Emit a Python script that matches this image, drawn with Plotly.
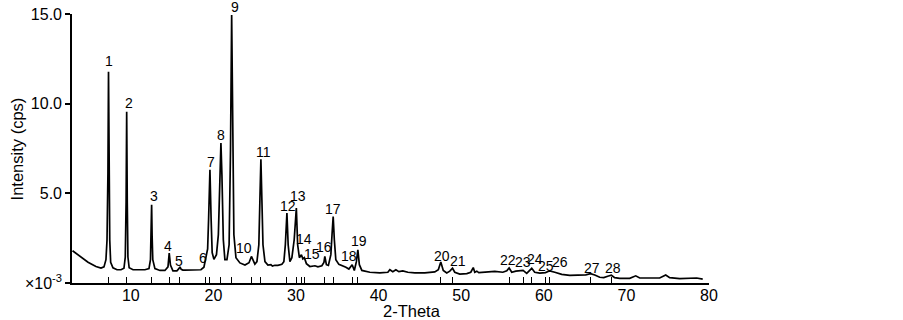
import plotly.graph_objects as go

# ---------------- data ----------------
two_theta = [
    2.94, 3.85, 4.82, 5.78, 6.39, 6.75, 6.99, 7.12, 7.23, 7.30, 7.38, 7.45, 7.56, 7.84,
    8.33, 8.81, 9.17, 9.33, 9.43, 9.50, 9.57, 9.65, 9.80, 10.27, 11.71, 12.20, 12.38,
    12.46, 12.52, 12.58, 12.66, 12.92, 13.53, 14.13, 14.50, 14.65, 14.80, 15.10, 15.58,
    15.82, 15.95, 16.10, 16.30, 16.55, 17.76, 18.49, 18.85, 19.00, 19.06, 19.18, 19.30,
    19.42, 19.58, 19.72, 19.85, 20.06, 20.37, 20.60, 20.78, 20.91, 21.03, 21.20, 21.39,
    21.64, 21.90, 22.07, 22.21, 22.34, 22.48, 22.73, 23.21, 23.82, 24.31, 24.60, 24.84,
    25.02, 25.27, 25.50, 25.63, 25.75, 25.87, 26.00, 26.24, 26.60, 26.96, 27.14, 27.44,
    27.81, 28.29, 28.53, 28.71, 28.90, 29.05, 29.26, 29.50, 29.78, 30.04, 30.20, 30.41,
    30.65, 30.83, 31.01, 31.26, 31.68, 32.29, 32.65, 33.13, 33.38, 33.49, 33.68, 33.92,
    34.22, 34.36, 34.50, 34.64, 34.82, 35.19, 35.55, 36.04, 36.40, 36.80, 37.06, 37.31,
    37.49, 37.67, 37.97, 38.94, 40.15, 41.12, 41.36, 41.72, 42.09, 42.45, 42.93, 43.54,
    44.39, 45.59, 46.80, 47.23, 47.53, 47.83, 48.25, 48.62, 48.95, 49.22, 49.83, 50.68,
    51.16, 51.46, 51.64, 51.89, 52.13, 52.86, 54.07, 55.04, 55.52, 55.80, 56.12, 56.61,
    57.09, 57.49, 57.93, 58.30, 58.54, 58.90, 59.51, 60.20, 60.72, 61.33, 62.17, 63.14,
    64.35, 65.08, 65.65, 66.17, 66.77, 67.26, 67.74, 68.18, 68.58, 69.19, 70.40, 71.13,
    71.61, 72.82, 74.03, 74.76, 75.24, 76.45, 77.90, 78.51, 79.24,
]
intensity = [
    1.80, 1.47, 1.16, 0.92, 0.83, 0.90, 1.30, 2.40, 6.10, 11.78, 6.10, 2.40, 1.15, 0.85,
    0.74, 0.74, 0.82, 1.45, 4.50, 9.55, 4.50, 1.45, 0.85, 0.74, 0.74, 0.80, 1.30,
    2.60, 4.36, 2.60, 1.30, 0.80, 0.70, 0.70, 0.90, 1.67, 1.00, 0.68, 0.68,
    0.80, 0.90, 0.76, 0.72, 0.72, 0.72, 0.74, 0.88, 1.20, 1.46, 1.58, 1.90,
    3.60, 6.31, 3.60, 1.70, 1.32, 1.58, 2.70, 6.03, 7.80, 6.03, 2.41, 1.30,
    1.30, 2.13, 7.42, 14.94, 7.42, 2.69, 1.41, 1.12, 1.00, 1.13, 1.48, 1.19,
    1.05, 1.19, 2.13, 4.64, 6.90, 4.64, 2.13, 1.19, 1.00, 1.02, 0.94, 0.99,
    0.98, 1.04, 1.19, 2.13, 3.90, 2.13, 1.19, 1.41, 2.41, 4.18, 2.13, 1.41,
    1.58, 1.35, 1.41, 1.08, 0.92, 0.96, 0.90, 0.96, 1.15, 1.48, 1.02, 0.98,
    1.58, 2.69, 3.71, 2.41, 1.30, 1.04, 0.98, 0.88, 0.78, 1.02, 0.70, 1.19,
    1.85, 1.02, 0.70, 0.60, 0.57, 0.60, 0.74, 0.63, 0.74, 0.63, 0.68, 0.60,
    0.57, 0.57, 0.62, 0.74, 1.17, 0.70, 0.56, 0.66, 0.82, 0.60, 0.50, 0.52,
    0.60, 0.86, 0.60, 0.66, 0.58, 0.62, 0.65, 0.60, 0.68, 0.84, 0.60, 0.66,
    0.66, 0.70, 0.54, 0.72, 0.82, 0.60, 0.55, 0.58, 0.68, 0.60, 0.48, 0.43,
    0.42, 0.45, 0.52, 0.45, 0.32, 0.30, 0.38, 0.43, 0.30, 0.26, 0.26, 0.40,
    0.28, 0.26, 0.28, 0.45, 0.30, 0.24, 0.24, 0.28, 0.22,
]

peak_labels = [str(i) for i in range(1, 29)]
peak_theta = [
    7.30, 9.50, 12.52, 14.65, 15.95, 19.06, 19.58, 20.91, 22.21, 24.60,
    25.75, 28.90, 30.04, 30.65, 31.01, 33.49, 34.50, 36.80, 37.49, 47.53,
    48.95, 55.80, 57.49, 58.54, 60.20, 60.72, 65.65, 68.18,
]
peak_intensity = [
    11.78, 9.55, 4.36, 1.67, 0.90, 1.46, 6.31, 7.80, 14.94, 1.48,
    6.90, 3.90, 4.18, 1.58, 1.41, 1.48, 3.71, 1.02, 1.85, 1.17,
    0.82, 0.84, 0.70, 0.82, 0.58, 0.68, 0.52, 0.43,
]

x_tick_values = [10, 20, 30, 40, 50, 60, 70, 80]
y_tick_values = [0, 5, 10, 15]
y_tick_text = ["×10<sup>-3</sup>", "5.0", "10.0", "15.0"]

x_title = "2-Theta"
y_title = "Intensity (cps)"

# ---------------- style ----------------
FONT = "Liberation Sans, Arial, sans-serif"
# label offsets (px) relative to each peak top
label_dx = [0, 2.5, 2.5, -1, -1, -3, 1, 0.5, 3, -7, 3, 1, 2, 2.5, 8, -1, 0, -3, 1, 1,
            5, -1, -0.5, 3.5, 0.5, 10, 1.5, 1.5]
label_dy = [11, 9, 9, 7, 6, -1, 8, 8, 8, 8.5, 7, 7.5, 12.5, 16, 4, 9.5, 7.5, 9, 8.5, 6,
            7.5, 7.5, 8.5, 9, 7, 8.5, 6, 7]

X_RANGE = [2.88, 80.0]
Y_RANGE = [0, 15]

fig = go.Figure()

fig.add_trace(go.Scatter(
    x=two_theta, y=intensity, mode="lines",
    line=dict(color="black", width=1.7),
    hoverinfo="skip", showlegend=False,
))
# invisible trace on the overlay axis that carries the peak tick marks
fig.add_trace(go.Scatter(
    x=peak_theta, y=peak_intensity, mode="markers", xaxis="x2",
    marker=dict(opacity=0), hoverinfo="skip", showlegend=False,
))

for lab, px, py, dx, dy in zip(peak_labels, peak_theta, peak_intensity, label_dx, label_dy):
    fig.add_annotation(
        x=px, y=py, xref="x", yref="y", text=lab, showarrow=False,
        xanchor="center", yanchor="middle", xshift=dx, yshift=dy,
        font=dict(family=FONT, size=14, color="black"),
    )

fig.add_annotation(
    x=44.0, y=-0.103, xref="x", yref="paper", text=x_title, showarrow=False,
    xanchor="center", yanchor="middle",
    font=dict(family=FONT, size=16.5, color="black"),
)
fig.add_annotation(
    x=-0.0865, y=0.5, xref="paper", yref="paper", text=y_title, showarrow=False,
    xanchor="center", yanchor="middle", textangle=-90,
    font=dict(family=FONT, size=16.5, color="black"),
)

fig.update_layout(
    template="none",
    width=903, height=320,
    margin=dict(l=72, r=194, t=14, b=37, pad=0),
    paper_bgcolor="white", plot_bgcolor="white",
    font=dict(family=FONT, size=16, color="black"),
    showlegend=False,
    xaxis=dict(
        range=X_RANGE, tickmode="array", tickvals=x_tick_values,
        ticks="", showgrid=False, zeroline=False, automargin=False,
        ticklabelstandoff=-3,
        showline=True, linecolor="black", linewidth=1.6,
        tickfont=dict(family=FONT, size=16, color="black"),
    ),
    xaxis2=dict(
        range=X_RANGE, overlaying="x", anchor="y", side="bottom",
        tickmode="array", tickvals=peak_theta, showticklabels=False,
        ticks="inside", ticklen=6, tickwidth=1.3, tickcolor="black",
        showgrid=False, zeroline=False, showline=False, automargin=False,
    ),
    yaxis=dict(
        range=Y_RANGE, tickmode="array", tickvals=y_tick_values, ticktext=y_tick_text,
        ticks="outside", ticklen=5, tickwidth=1.5, tickcolor="black",
        showgrid=False, zeroline=False, automargin=False,
        showline=True, linecolor="black", linewidth=1.6,
        tickfont=dict(family=FONT, size=16, color="black"),
    ),
)

# remove the browser's default page margin so the 903x320 figure fills the window
fig.write_html(
    "out.html",
    config={"displayModeBar": False},
    post_script="document.body.style.margin='0px';document.body.style.overflow='hidden';",
)
